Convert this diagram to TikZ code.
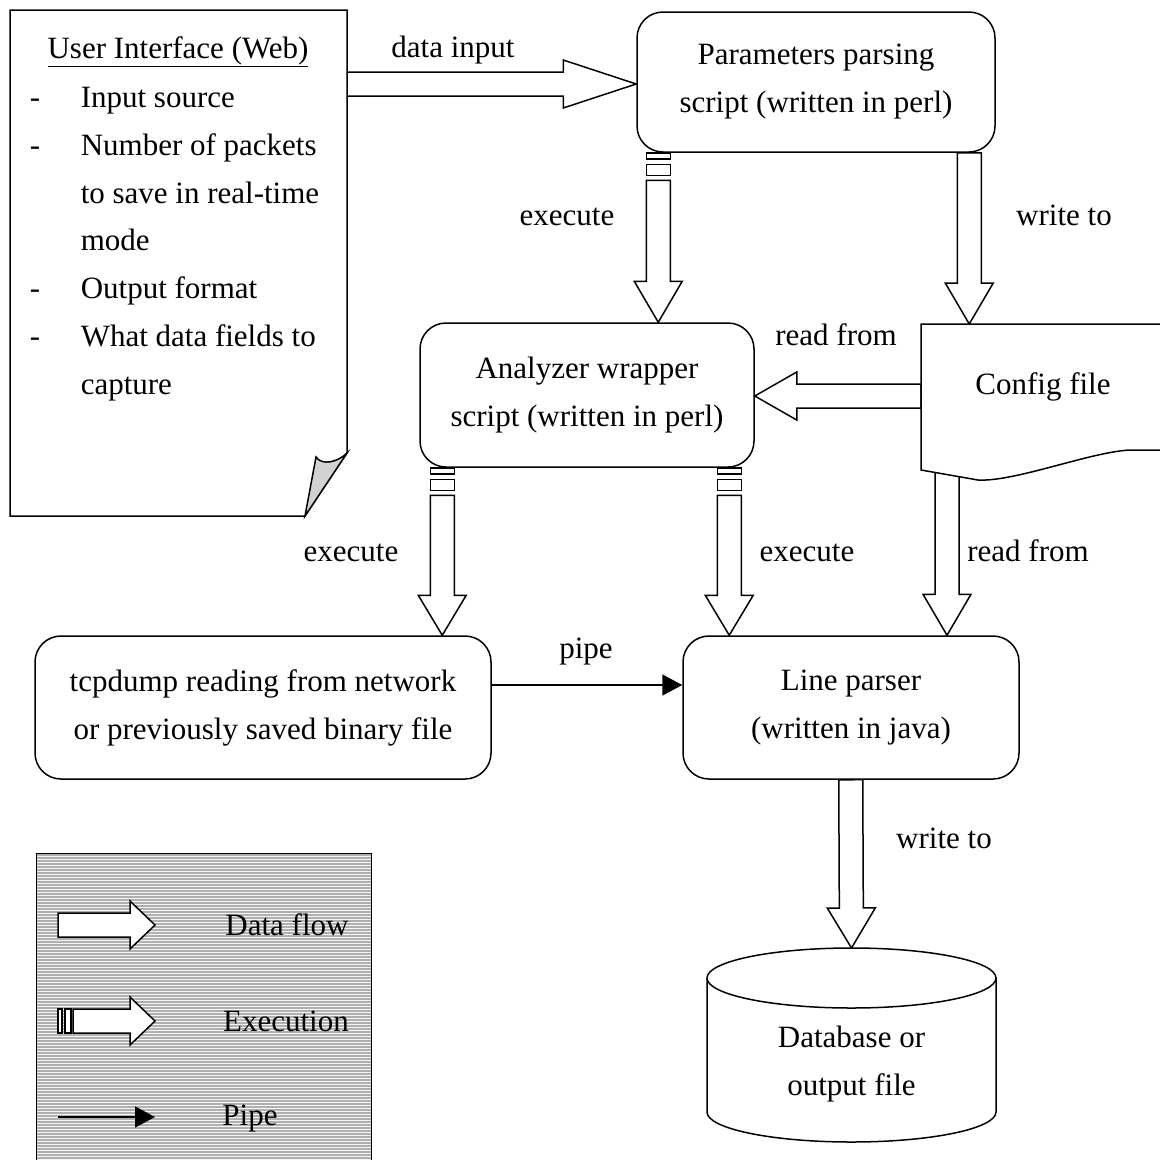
\documentclass[tikz,border=0pt]{standalone}
\usepackage{fontspec}
\setmainfont{Liberation Serif}
\usetikzlibrary{calc,arrows.meta,patterns}
\pgfdeclarelayer{background}
\pgfsetlayers{background,main}

% block (data flow) arrow from #1 to #2 with head length #3
\newcommand\blockarrow[3]{%
  \coordinate (ba) at #1; \coordinate (bb) at #2;
  \coordinate (bh) at ($(bb)!#3!(ba)$);
  \draw[blockline] ($(ba)!12pt!90:(bb)$) -- ($(bh)!12pt!-90:(ba)$) -- ($(bh)!24pt!-90:(ba)$) -- (bb)
     -- ($(bh)!24pt!90:(ba)$) -- ($(bh)!12pt!90:(ba)$) -- ($(ba)!12pt!-90:(bb)$) -- cycle;}
\newcommand\tailrect[2]{%
  \coordinate (qa) at ($(ea)!#1!(eb)$); \coordinate (qb) at ($(ea)!#2!(eb)$);
  \draw[blockline] ($(qa)!12pt!90:(eb)$) -- ($(qb)!12pt!90:(eb)$) -- ($(qb)!12pt!-90:(eb)$) -- ($(qa)!12pt!-90:(eb)$) -- cycle;}
% execution arrow: A B head r1a r1b r2a r2b shaftstart
\newcommand\execarrow[8]{%
  \coordinate (ea) at #1; \coordinate (eb) at #2;
  \tailrect{#4}{#5}\tailrect{#6}{#7}%
  \blockarrow{($(ea)!#8!(eb)$)}{(eb)}{#3}}

\begin{document}
\begin{tikzpicture}[x=1pt,y=-1pt, font=\fontsize{31}{48}\selectfont, line width=1.5pt,
  blockline/.style={draw, fill=white, line width=1.5pt, line join=miter},
  box/.style={draw, fill=white, rounded corners=26pt, align=center, inner sep=0pt},
  lbl/.style={anchor=base, inner sep=0pt},
  pipeline/.style={line width=1.5pt, -{Triangle[length=20pt,width=21pt]}}]
\useasboundingbox (0,0) rectangle (1160,1160);

% ---------- User interface (page with folded corner)
\node[minimum width=337pt, minimum height=506pt, inner sep=0pt, anchor=north west] (ui) at (10,10) {};
\draw[fill=white] (10,10) -- (347,10) -- (347,453) -- (305,516) -- (10,516) -- cycle;
\draw[fill=gray!35] (347,453) .. controls (338,462) and (322,466) .. (316,457) -- (305,516) -- cycle;
\node[lbl] (uititle) at (178,58) {\underline{User Interface (Web)}};
\node[lbl] (d1) at (35,107) {-};
\node[lbl, anchor=base west] (i1) at (80,107) {Input source};
\node[lbl] (d2) at (35,155) {-};
\node[lbl, anchor=base west] (i2) at (80,155) {Number of packets};
\node[lbl, anchor=base west] (i2b) at (80,203) {to save in real-time};
\node[lbl, anchor=base west] (i2c) at (80,250) {mode};
\node[lbl] (d3) at (35,298) {-};
\node[lbl, anchor=base west] (i3) at (80,298) {Output format};
\node[lbl] (d4) at (35,346) {-};
\node[lbl, anchor=base west] (i4) at (80,346) {What data fields to};
\node[lbl, anchor=base west] (i4b) at (80,394) {capture};

% ---------- process boxes
\node[box, minimum width=358pt, minimum height=140pt] (param) at (816,82) {Parameters parsing\\script (written in perl)};
\node[box, minimum width=334pt, minimum height=144pt] (ana) at (587,395) {Analyzer wrapper\\script (written in perl)};
\node[box, minimum width=456pt, minimum height=143pt] (tcp) at (263,707.5) {tcpdump reading from network\\or previously saved binary file};
\node[box, minimum width=336pt, minimum height=143pt] (lp) at (851,707.5) {Line parser\\(written in java)};

% ---------- config file (document shape)
\coordinate (cfgtop) at (921,324);
\draw[fill=white] (921,324) -- (1170,324) -- (1170,450) -- (1130,450)
   .. controls (1090,452) and (1015,482) .. (978,480) -- (921,470) -- cycle;
\node[lbl] (cfg) at (1043,394) {Config file};

% ---------- database cylinder
\draw[fill=white] (707,978) -- (707,1112) arc[start angle=180, end angle=0, x radius=144.5, y radius=30]
   -- (996,978) arc[start angle=0, end angle=-180, x radius=144.5, y radius=30] -- cycle;
\draw (707,978) arc[start angle=180, end angle=0, x radius=144.5, y radius=30];
\coordinate (dbtop) at (851.5,948);
\node[align=center, inner sep=0pt] (db) at (851.5,1064) {Database or\\output file};

% ---------- connectors
\begin{pgfonlayer}{background}
\coordinate (di) at (347,84);
\blockarrow{(di)}{(di -| param.west)}{73pt}
\coordinate (x1) at ($(param.south west)+(22,0)$);
\execarrow{(x1)}{(x1 |- ana.north)}{41pt}{0pt}{6pt}{11.5pt}{22.5pt}{27.5pt}
\coordinate (w1) at ($(param.south west)+(333,0)$);
\blockarrow{(w1)}{(w1 |- cfgtop)}{41pt}
\coordinate (rf1) at (921,396);
\blockarrow{(rf1)}{(rf1 -| ana.east)}{42pt}
\coordinate (x2) at ($(ana.south west)+(23,0)$);
\execarrow{(x2)}{(x2 |- tcp.north)}{40pt}{0pt}{6pt}{11.5pt}{22.5pt}{27.5pt}
\coordinate (x3) at ($(ana.south west)+(310,0)$);
\execarrow{(x3)}{(x3 |- lp.north)}{40pt}{0pt}{6pt}{11.5pt}{22.5pt}{27.5pt}
\coordinate (rf2) at (947,455);
\blockarrow{(rf2)}{(rf2 |- lp.north)}{41pt}
\coordinate (w2) at ($(lp.south west)+(168.5,0)$);
\blockarrow{(w2)}{(dbtop)}{40pt}
\end{pgfonlayer}
\coordinate (p1) at (491,685);
\draw[pipeline] (p1) -- (p1 -| lp.west);

% ---------- connector labels
\node[lbl] (ldi) at (453,57) {data input};
\node[lbl] (lex1) at (567,225) {execute};
\node[lbl] (lwt1) at (1064,225) {write to};
\node[lbl] (lrf1) at (836,345) {read from};
\node[lbl] (lex2) at (351,561) {execute};
\node[lbl] (lex3) at (807,561) {execute};
\node[lbl] (lrf2) at (1028,561) {read from};
\node[lbl] (lpipe) at (586,658) {pipe};
\node[lbl] (lwt2) at (944,848) {write to};

% ---------- legend
\node[fill=gray!62, postaction={pattern=horizontal lines, pattern color=white!92!gray},
  minimum width=335pt, minimum height=320pt, anchor=north west, inner sep=0pt] (leg) at (36,853) {};
\draw (leg.south west) -- (leg.north west) -- (leg.north east) -- (leg.south east);
\coordinate (l1) at (58,925);
\blockarrow{(l1)}{($(l1)+(97,0)$)}{25pt}
\coordinate (l2) at (58,1021);
\execarrow{(l2)}{($(l2)+(97,0)$)}{25pt}{0pt}{4pt}{7pt}{13pt}{15pt}
\coordinate (l3) at (58,1117);
\draw[pipeline] (l3) -- ($(l3)+(97,0)$);
\node[lbl] (lg1) at (287,935) {Data flow};
\node[lbl] (lg2) at (286,1031) {Execution};
\node[lbl] (lg3) at (250,1125) {Pipe};
\end{tikzpicture}
\end{document}
